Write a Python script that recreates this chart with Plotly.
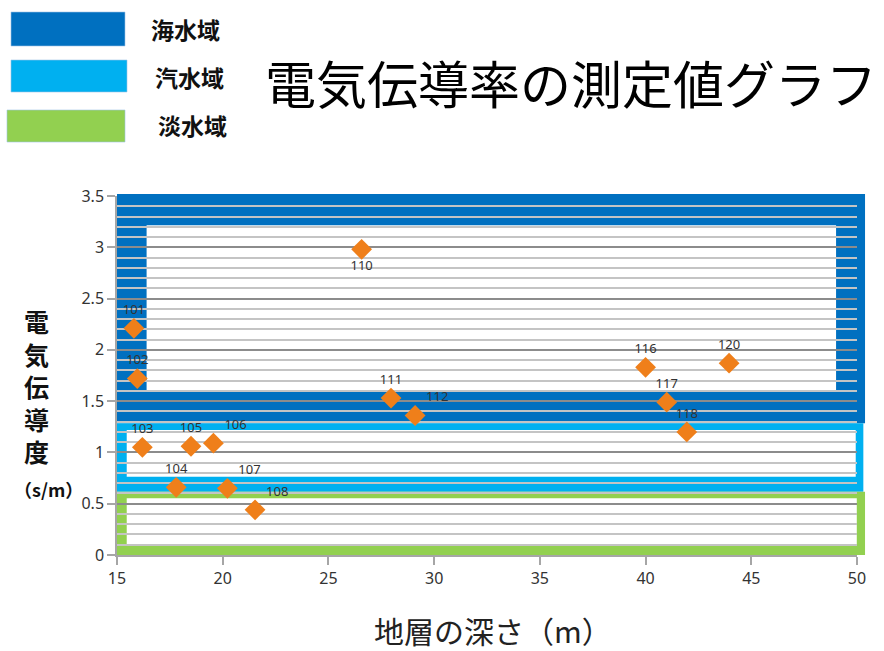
import plotly.graph_objects as go

# ---- data ----
sample_ids = ["101", "102", "103", "104", "105", "106", "107", "108",
              "110", "111", "112", "116", "117", "118", "120"]
depth_m = [15.8, 15.96, 16.2, 17.8, 18.5, 19.56, 20.22, 21.53,
           26.57, 27.96, 29.1, 40.0, 41.0, 41.95, 43.95]
conductivity = [2.21, 1.72, 1.05, 0.66, 1.06, 1.09, 0.65, 0.44,
                2.98, 1.53, 1.36, 1.83, 1.49, 1.20, 1.87]

zone_names = ["海水域", "汽水域", "淡水域"]
zone_colors = ["#0070C0", "#00B0F0", "#92D050"]
# zone frames: (outer x0, x1, y0, y1), (inner white x0, x1, y0, y1)
zone_outer = [(15.0, 50.38, 1.284, 3.52), (15.0, 50.3, 0.617, 1.284), (15.0, 50.38, 0.0, 0.617)]
zone_inner = [(16.40, 49.01, 1.59, 3.216), (15.46, 49.94, 0.763, 1.218), (15.46, 49.99, 0.097, 0.553)]

x_range = [15, 50]
y_range = [0, 3.5]

title_text = "電気伝導率の測定値グラフ"
x_title = "地層の深さ（m）"
y_title_chars = ["電", "気", "伝", "導", "度"]
y_unit = "（s/m）"

# ---- layout geometry (pixels) ----
W, H = 884, 651
L, R, T, B = 117, 27, 196, 96
PW, PH = W - L - R, H - T - B


def px(xp):
    return (xp - L) / PW


def py(yp):
    return (H - B - yp) / PH


def xdata_to_paper(x):
    return (x - x_range[0]) / (x_range[1] - x_range[0])


def ydata_to_paper(y):
    return (y - y_range[0]) / (y_range[1] - y_range[0])


label_pos = ["top center", "top center", "top center", "top center", "top center",
             "top right", "top right", "top right", "bottom center", "top center",
             "top right", "top center", "top center", "top center", "top center"]

fig = go.Figure()
fig.add_trace(go.Scatter(
    x=depth_m, y=conductivity, mode="markers+text",
    text=sample_ids, textposition=label_pos,
    textfont=dict(family="Noto Sans, sans-serif", size=13, color="#333333"),
    marker=dict(symbol="diamond", size=16, color="#EF7F1A", line=dict(width=0)),
    showlegend=False, cliponaxis=False,
))

shapes = []
for (o, i, c) in zip(zone_outer, zone_inner, zone_colors):
    # outer frame may spill slightly past the plot edge, so place it in paper units
    shapes.append(dict(type="rect", xref="paper", yref="paper",
                       x0=xdata_to_paper(o[0]), x1=xdata_to_paper(o[1]),
                       y0=ydata_to_paper(o[2]), y1=ydata_to_paper(o[3]),
                       fillcolor=c, line=dict(width=0), layer="below"))
    shapes.append(dict(type="rect", xref="x", yref="y", x0=i[0], x1=i[1], y0=i[2], y1=i[3],
                       fillcolor="white", line=dict(width=0), layer="below"))

# legend swatches (pixel boxes)
legend_boxes = [(11, 125, 12, 46), (11, 127, 60, 92), (7, 125, 110, 142)]
legend_text_pos = [(185, 29), (189, 77), (192, 125)]
annotations = []
for (bx, c, name, tp) in zip(legend_boxes, zone_colors, zone_names, legend_text_pos):
    shapes.append(dict(type="rect", xref="paper", yref="paper",
                       x0=px(bx[0]), x1=px(bx[1]), y0=py(bx[3]), y1=py(bx[2]),
                       fillcolor=c, line=dict(width=0.6, color="#9DC3E6"), layer="above"))
    annotations.append(dict(text=f"<b>{name}</b>", xref="paper", yref="paper",
                            x=px(tp[0]), y=py(tp[1]), showarrow=False,
                            xanchor="center", yanchor="middle",
                            font=dict(family="Noto Sans CJK JP", size=23, color="#111")))

annotations.append(dict(text=title_text, xref="paper", yref="paper", x=px(571), y=py(82),
                        showarrow=False, xanchor="center", yanchor="middle",
                        font=dict(family="Noto Sans CJK JP", size=51, color="#000")))
annotations.append(dict(text=x_title, xref="paper", yref="paper", x=px(493), y=py(630),
                        showarrow=False, xanchor="center", yanchor="middle",
                        font=dict(family="Noto Sans CJK JP", size=30, color="#222")))
annotations.append(dict(text="<b>" + "<br>".join(y_title_chars) + "</b>",
                        xref="paper", yref="paper", x=px(36), y=py(386),
                        showarrow=False, xanchor="center", yanchor="middle", align="center",
                        font=dict(family="Noto Sans CJK JP", size=25, color="#111")))
annotations.append(dict(text=f"<b>{y_unit}</b>", xref="paper", yref="paper",
                        x=px(48), y=py(489), showarrow=False, xanchor="center", yanchor="middle",
                        font=dict(family="Noto Sans CJK JP", size=18, color="#111")))

axis_font = dict(family="Noto Sans, sans-serif", size=16, color="#333")
fig.update_layout(
    width=W, height=H, margin=dict(l=L, r=R, t=T, b=B),
    paper_bgcolor="white", plot_bgcolor="white",
    shapes=shapes, annotations=annotations,
    xaxis=dict(range=x_range, dtick=5, tick0=15, showgrid=False, zeroline=False,
               showline=True, linecolor="#A6A6A6", linewidth=1.5,
               ticks="outside", ticklen=8, tickcolor="#A6A6A6", tickwidth=1.5,
               tickfont=axis_font, fixedrange=True),
    yaxis=dict(range=y_range, dtick=0.5, tick0=0, showgrid=True, gridcolor="#8C8C8C",
               gridwidth=1.5, zeroline=False, showline=True, linecolor="#A6A6A6",
               linewidth=1.5, ticks="outside", ticklen=8, tickcolor="#A6A6A6", tickwidth=1.5,
               tickfont=axis_font, fixedrange=True,
               minor=dict(dtick=0.1, showgrid=True, gridcolor="#C4C4C4", gridwidth=1.5)),
)

fig.write_html("out.html")
